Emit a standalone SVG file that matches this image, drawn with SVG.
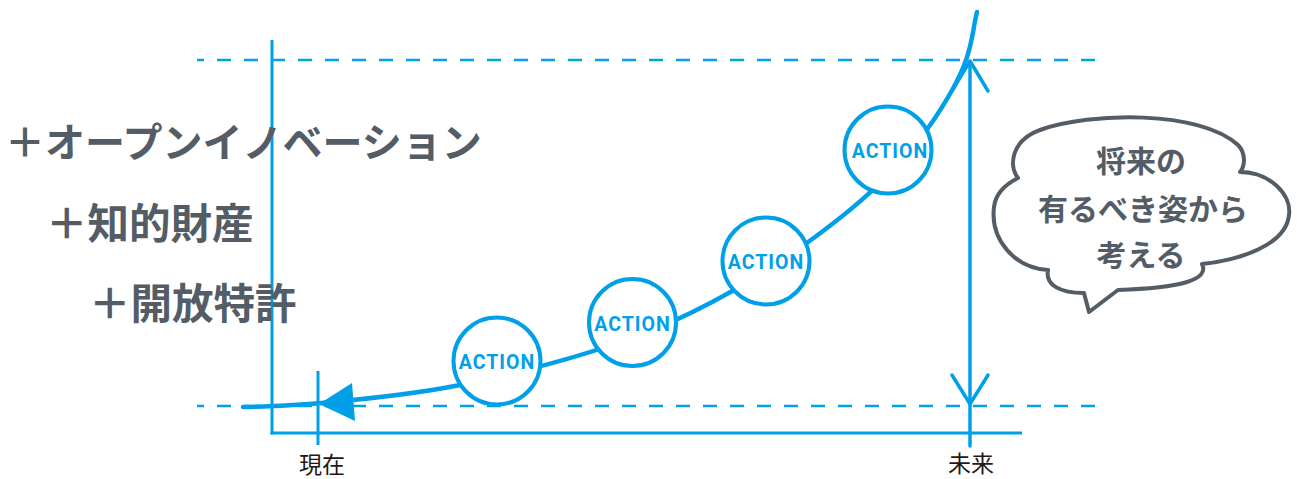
<svg xmlns="http://www.w3.org/2000/svg" width="1297" height="479" viewBox="0 0 1297 479">
<style>
.dash{stroke:#00a0e9;stroke-width:2.5;stroke-dasharray:14 13;stroke-dashoffset:7;fill:none}
.ax{stroke:#00a0e9;stroke-width:3;fill:none}
.curve{stroke:#00a0e9;stroke-width:4.5;fill:none;stroke-linecap:round}
.arr{stroke:#00a0e9;stroke-width:3.5;fill:none;stroke-linecap:round;stroke-linejoin:round}
.node circle{fill:#fff;stroke:#00a0e9;stroke-width:4}
.node text{fill:#00a0e9;font-family:Roboto,"Liberation Sans",sans-serif;font-weight:700;font-size:19.5px;letter-spacing:1px;text-anchor:middle;dominant-baseline:central}
.lbl{fill:#545c66;font-family:"Noto Sans CJK JP",sans-serif;font-weight:700;font-size:40px;dominant-baseline:central}
.lbl2{font-size:41.5px}
.bub{fill:#545c66;font-family:"Noto Sans CJK JP",sans-serif;font-weight:700;font-size:30px;text-anchor:middle;dominant-baseline:central}
.tick{fill:#231815;font-family:"Noto Sans CJK JP",sans-serif;font-size:23px;text-anchor:middle;dominant-baseline:central}
</style>
<rect width="1297" height="479" fill="#fff"/>
<g id="grid">
<line class="dash" x1="197" y1="60" x2="1100" y2="60"/>
<line class="dash" x1="197" y1="406" x2="1100" y2="406"/>
<line class="ax" x1="272" y1="40" x2="272" y2="434.5"/>
<line class="ax" x1="270.5" y1="433" x2="1022" y2="433"/>
<line class="ax" x1="318" y1="371" x2="318" y2="445"/>
</g>
<g id="connectors">
<path class="curve" d="M243,407 C290,406.5 400,398 470,383 S600,350 640,335 S740,290 790,255 S895,178 935,118 S970,40 977,12"/>
<polygon points="319,404 352,383 355,421" fill="#00a0e9"/>
<line class="arr" x1="970" y1="62" x2="970" y2="446"/>
<polyline class="arr" points="952,91 970,61 988,91"/>
<polyline class="arr" points="952,375 970,404 988,375"/>
</g>
<g id="action1" class="node"><circle cx="497" cy="361" r="43.5"/><text x="497" y="362">ACTION</text></g>
<g id="action2" class="node"><circle cx="632.5" cy="322.5" r="43.5"/><text x="632.5" y="324">ACTION</text></g>
<g id="action3" class="node"><circle cx="766" cy="261" r="43.5"/><text x="766" y="262">ACTION</text></g>
<g id="action4" class="node"><circle cx="888" cy="150" r="43.5"/><text x="890" y="151">ACTION</text></g>
<g id="labels">
<text class="lbl" x="5" y="140">＋オープンイノベーション</text>
<text class="lbl lbl2" x="46" y="221">＋知的財産</text>
<text class="lbl lbl2" x="89" y="301">＋開放特許</text>
</g>
<g id="axis-labels">
<text class="tick" x="322" y="463">現在</text>
<text class="tick" x="971" y="462">未来</text>
</g>
<g id="bubble">
<path d="M1018,178 C1008,165 1012,140 1040,130 C1090,112 1200,110 1238,145 C1245,152 1246,165 1240,172 C1270,172 1292,195 1289,215 C1286,245 1240,260 1202,264 C1210,280 1180,288 1118,290 L1089,312 L1084,293 C1060,293 1045,285 1048,270 C1015,268 990,240 994,207 C996,190 1010,182 1018,178 Z" fill="#fff" stroke="#545c66" stroke-width="4" stroke-linejoin="round"/>
<text class="bub" x="1141" y="159">将来の</text>
<text class="bub" x="1143" y="207">有るべき姿から</text>
<text class="bub" x="1141" y="253">考える</text>
</g>
</svg>
